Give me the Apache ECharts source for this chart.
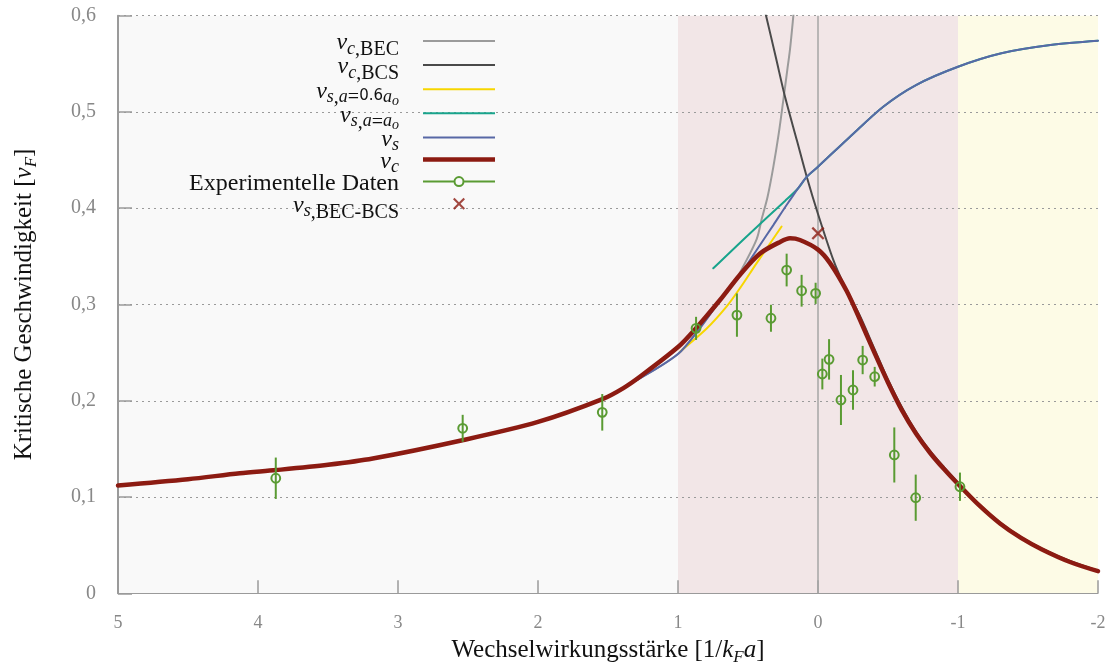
<!DOCTYPE html>
<html>
<head>
<meta charset="utf-8">
<script src="https://cdn.jsdelivr.net/npm/echarts@6/dist/echarts.min.js"></script>
<style>
  html, body { margin: 0; padding: 0; background: #ffffff; }
  #chart { width: 1108px; height: 666px; }
</style>
</head>
<body>
<div id="chart"></div>
<script>
// Interaction strength 1/(kF a) on x, critical velocity in units of vF on y.

// Regimes: BEC side, crossover, BCS side
const bandRanges = [[5, 1], [1, -1], [-1, -2]];

// v_c (full critical velocity)
const vcX = [5, 4.5, 4.13, 3.87, 3.5, 3.18, 2.54, 2.0, 1.54, 1.39, 1.27, 1.0, 0.87, 0.7, 0.557, 0.414, 0.271, 0.2, 0.129, 0, -0.086, -0.205, -0.3, -0.4, -0.5, -0.6, -0.7, -0.8, -0.9, -1.0, -1.15, -1.3, -1.45, -1.6, -1.8, -2];
const vcY = [0.112, 0.1185, 0.1247, 0.128, 0.1335, 0.140, 0.159, 0.178, 0.2017, 0.2132, 0.2252, 0.2558, 0.2756, 0.3047, 0.331, 0.353, 0.365, 0.3687, 0.367, 0.357, 0.343, 0.314, 0.284, 0.251, 0.219, 0.190, 0.166, 0.146, 0.129, 0.1135, 0.0915, 0.0725, 0.0575, 0.0455, 0.0325, 0.0230];

// v_s (speed of sound)
const vsX = [1.3, 1.0, 0.843, 0.7, 0.557, 0.438, 0.319, 0.212, 0.081, 0, -0.229, -0.466, -0.7, -1.0, -1.31, -1.66, -2];
const vsY = [0.221, 0.2485, 0.2755, 0.304, 0.3306, 0.3566, 0.3825, 0.406, 0.4325, 0.4431, 0.4743, 0.5055, 0.528, 0.547, 0.561, 0.5695, 0.574];

// v_s with a = a_o
const vsA0X = [0.748, 0.5, 0.236, 0.143, 0.081, 0, -0.229, -0.466, -0.7, -1.0, -1.31, -1.66, -2];
const vsA0Y = [0.3376, 0.372, 0.4075, 0.4205, 0.4325, 0.4431, 0.4743, 0.5055, 0.528, 0.547, 0.561, 0.5695, 0.574];

// v_s with a = 0.6 a_o
const vsA06X = [0.986, 0.795, 0.652, 0.557, 0.438, 0.26];
const vsA06Y = [0.251, 0.275, 0.298, 0.317, 0.343, 0.381];

// v_c on the BEC side
const vcBecX = [1.3, 1.0, 0.843, 0.7, 0.6, 0.536, 0.438, 0.4, 0.36, 0.319, 0.28, 0.248, 0.22, 0.2, 0.176, 0.16];
const vcBecY = [0.221, 0.2485, 0.2755, 0.304, 0.322, 0.339, 0.368, 0.39, 0.412, 0.443, 0.478, 0.512, 0.543, 0.565, 0.6, 0.625];

// v_c on the BCS side
const vcBcsX = [0.38, 0.371, 0.3, 0.236, 0.15, 0.081, 0, -0.11, -0.181, -0.3, -0.4, -0.5, -0.6, -0.7, -0.8, -0.9, -1.0, -1.15, -1.3, -1.45, -1.6, -1.8, -2];
const vcBcsY = [0.605, 0.6, 0.556, 0.516, 0.47, 0.433, 0.394, 0.346, 0.322, 0.288, 0.255, 0.222, 0.193, 0.168, 0.148, 0.131, 0.115, 0.0925, 0.0735, 0.0585, 0.0465, 0.0335, 0.0235];

// Measured critical velocities with their uncertainty
const expX = [3.873, 2.538, 1.541, 0.871, 0.579, 0.336, 0.224, 0.117, 0.017, -0.031, -0.079, -0.164, -0.25, -0.319, -0.405, -0.545, -0.698, -1.014];
const expY = [0.1195, 0.1714, 0.188, 0.2752, 0.289, 0.2857, 0.3358, 0.3143, 0.3116, 0.2278, 0.243, 0.2008, 0.2112, 0.2423, 0.225, 0.1437, 0.0993, 0.1107];
const expErr = [0.0215, 0.014, 0.019, 0.012, 0.0225, 0.014, 0.017, 0.0165, 0.011, 0.016, 0.021, 0.026, 0.0205, 0.0147, 0.0102, 0.0286, 0.024, 0.0147];

// Sound velocity at the BEC-BCS point
const crossX = [0];
const crossY = [0.374];

// Axis ticks
const xTicks = { min: -2, max: 5, step: 1 };
const yTicks = { min: 0, max: 0.6, step: 0.1 };

const zip = (xs, ys) => xs.map((x, i) => [x, ys[i]]);

const SERIF = '"Liberation Serif", "DejaVu Serif", serif';
const INK = '#111111';
const GREEN = '#5a9b33';
const RED = '#8c1b12';
const bandColors = ['#f9f9f9', '#f2e6e7', '#fdfbe6'];

const legendRich = {
  m:  { fontFamily: SERIF, fontStyle: 'italic', fontSize: 24, lineHeight: 20, padding: [0, 0, 3, 0], verticalAlign: 'top', color: INK },
  s:  { fontFamily: SERIF, fontStyle: 'italic', fontSize: 18, lineHeight: 14, padding: [9, 0, 0, 0], verticalAlign: 'top', color: INK },
  r:  { fontFamily: SERIF, fontSize: 20, lineHeight: 14, padding: [9, 0, 0, 0], verticalAlign: 'top', color: INK },
  d:  { fontFamily: '"DejaVu Sans", sans-serif', fontSize: 15, lineHeight: 14, padding: [9, 0, 0, 0], verticalAlign: 'top', color: INK },
  ss: { fontFamily: SERIF, fontStyle: 'italic', fontSize: 14, lineHeight: 8, padding: [15, 0, 0, 0], verticalAlign: 'top', color: INK },
  t:  { fontFamily: SERIF, fontSize: 24, lineHeight: 20, padding: [0, 0, 3, 0], verticalAlign: 'top', color: INK }
};

const legendLabels = {
  'v_c,BEC': '{m|v}{s|c}{r|,BEC}',
  'v_c,BCS': '{m|v}{s|c}{r|,BCS}',
  'v_s,a=0.6a_o': '{m|v}{s|s}{r|,}{s|a}{r|=}{d|0.6}{s|a}{ss|o}',
  'v_s,a=a_o': '{m|v}{s|s}{r|,}{s|a}{r|=}{s|a}{ss|o}',
  'v_s': '{m|v}{s|s}',
  'v_c': '{m|v}{s|c}',
  'Experimentelle Daten': '{t|Experimentelle Daten}',
  'v_s,BEC-BCS': '{m|v}{s|s}{r|,BEC-BCS}'
};

const thinIcon = 'path://M0,0H72V2H0Z';
const thickIcon = 'path://M0,0H72V4.5H0Z';
const pointIcon = 'path://M0,4.5H31H31V6.5H0Z M41,4.5H72V6.5H41Z M30.5,5.5A5.5,5.5 0 1 1 41.5,5.5A5.5,5.5 0 1 1 30.5,5.5Z M32.5,5.5A3.5,3.5 0 1 0 39.5,5.5A3.5,3.5 0 1 0 32.5,5.5Z';
const crossSymbol = 'path://M0,1.5L1.5,0L6,4.5L10.5,0L12,1.5L7.5,6L12,10.5L10.5,12L6,7.5L1.5,12L0,10.5L4.5,6Z';

const nameRich = {
  n:   { fontFamily: SERIF, fontSize: 25, lineHeight: 24, padding: [0, 0, 4, 0], verticalAlign: 'top', color: INK },
  i:   { fontFamily: SERIF, fontStyle: 'italic', fontSize: 25, lineHeight: 24, padding: [0, 0, 4, 0], verticalAlign: 'top', color: INK },
  sub: { fontFamily: SERIF, fontStyle: 'italic', fontSize: 17, lineHeight: 16, padding: [11, 0, 0, 0], verticalAlign: 'top', color: INK }
};

function curve(name, xs, ys, color, width) {
  return {
    name, type: 'line', data: zip(xs, ys), smooth: 0.3,
    symbol: 'none', showSymbol: false, clip: true, z: 2,
    lineStyle: { color, width, cap: 'round' }, itemStyle: { color }
  };
}

const chart = echarts.init(document.getElementById('chart'), null, { renderer: 'canvas' });

chart.setOption({
  animation: false,
  backgroundColor: '#ffffff',
  grid: { left: 118, right: 10, top: 15.7, bottom: 72.7, containLabel: false, outerBoundsMode: 'none' },
  xAxis: {
    type: 'value', inverse: true,
    min: xTicks.min, max: xTicks.max, interval: xTicks.step,
    axisLine: { show: true, onZero: false, lineStyle: { color: '#9a9a9a', width: 1 } },
    axisTick: { show: true, inside: true, length: 13, lineStyle: { color: '#9a9a9a', width: 1.5 } },
    axisLabel: { margin: 21, color: '#888888', fontFamily: SERIF, fontSize: 18, formatter: v => String(v) },
    splitLine: { show: false },
    name: '{n|Wechselwirkungsstärke [1/}{i|k}{sub|F}{i|a}{n|]}',
    nameLocation: 'middle', nameGap: 45,
    nameTextStyle: { rich: nameRich }
  },
  yAxis: {
    type: 'value',
    min: yTicks.min, max: yTicks.max, interval: yTicks.step,
    axisLine: { show: true, onZero: false, lineStyle: { color: '#9a9a9a', width: 2 } },
    axisTick: { show: true, inside: true, length: 14, lineStyle: { color: '#9a9a9a', width: 1.5 } },
    axisLabel: {
      margin: 22, color: '#888888', fontFamily: SERIF, fontSize: 20,
      formatter: v => (v === 0 ? '0' : v.toFixed(1).replace('.', ','))
    },
    splitLine: { show: true, lineStyle: { color: '#9a9a9a', width: 1.2, type: [2, 4] } },
    name: '{n|Kritische Geschwindigkeit [}{i|v}{sub|F}{n|]}',
    nameLocation: 'middle', nameGap: 82,
    nameTextStyle: { rich: nameRich }
  },
  legend: {
    orient: 'vertical', align: 'right',
    right: 613, top: 31, padding: 0, itemGap: -4.9,
    itemWidth: 72, itemHeight: 12, symbolKeepAspect: true,
    itemStyle: { borderWidth: 0 },
    textStyle: { padding: [0, 19, 0, 0], rich: legendRich },
    formatter: name => legendLabels[name],
    data: [
      { name: 'v_c,BEC', icon: thinIcon },
      { name: 'v_c,BCS', icon: thinIcon },
      { name: 'v_s,a=0.6a_o', icon: thinIcon },
      { name: 'v_s,a=a_o', icon: thinIcon },
      { name: 'v_s', icon: thinIcon },
      { name: 'v_c', icon: thickIcon },
      { name: 'Experimentelle Daten', icon: pointIcon, itemStyle: { color: GREEN } },
      { name: 'v_s,BEC-BCS' }
    ]
  },
  series: [
    {
      // shaded regimes behind the grid lines
      type: 'custom', name: 'bands', silent: true, z: -1,
      data: bandRanges.map((r, i) => [r[0], r[1], i]),
      renderItem: (params, api) => {
        const a = api.coord([api.value(0), yTicks.min]);
        const b = api.coord([api.value(1), yTicks.min]);
        const cs = params.coordSys;
        return {
          type: 'rect',
          shape: { x: Math.min(a[0], b[0]), y: cs.y, width: Math.abs(b[0] - a[0]), height: cs.height },
          style: { fill: bandColors[api.value(2)] }
        };
      }
    },
    {
      // vertical reference at 1/(kF a) = 0
      type: 'custom', name: 'zero', silent: true, z: 1,
      data: [[0]],
      renderItem: (params, api) => {
        const p = api.coord([api.value(0), yTicks.min]);
        const cs = params.coordSys;
        return {
          type: 'line',
          shape: { x1: p[0], y1: cs.y, x2: p[0], y2: cs.y + cs.height },
          style: { stroke: '#a6a6a6', lineWidth: 1.5 }
        };
      }
    },
    curve('v_c,BEC', vcBecX, vcBecY, '#9b9b9b', 2),
    curve('v_c,BCS', vcBcsX, vcBcsY, '#4a4a4a', 2),
    curve('v_s,a=0.6a_o', vsA06X, vsA06Y, '#f7d600', 2),
    curve('v_s,a=a_o', vsA0X, vsA0Y, '#18a48c', 2),
    curve('v_s', vsX, vsY, '#5868a6', 2),
    curve('v_c', vcX, vcY, RED, 4.5),
    {
      name: 'Experimentelle Daten', type: 'custom', z: 3,
      itemStyle: { color: GREEN },
      data: expX.map((x, i) => [x, expY[i], expErr[i]]),
      encode: { x: 0, y: 1 },
      renderItem: (params, api) => {
        const x = api.value(0), y = api.value(1), e = api.value(2);
        const c = api.coord([x, y]);
        const hi = api.coord([x, y + e]);
        const lo = api.coord([x, y - e]);
        return {
          type: 'group',
          children: [
            { type: 'line', shape: { x1: c[0], y1: hi[1], x2: c[0], y2: lo[1] }, style: { stroke: GREEN, lineWidth: 2 } },
            { type: 'circle', shape: { cx: c[0], cy: c[1], r: 4.4 }, style: { fill: 'none', stroke: GREEN, lineWidth: 2 } }
          ]
        };
      }
    },
    {
      name: 'v_s,BEC-BCS', type: 'scatter', z: 3,
      data: zip(crossX, crossY),
      symbol: crossSymbol, symbolSize: 13,
      itemStyle: { color: RED }
    }
  ]
});
</script>
</body>
</html>
